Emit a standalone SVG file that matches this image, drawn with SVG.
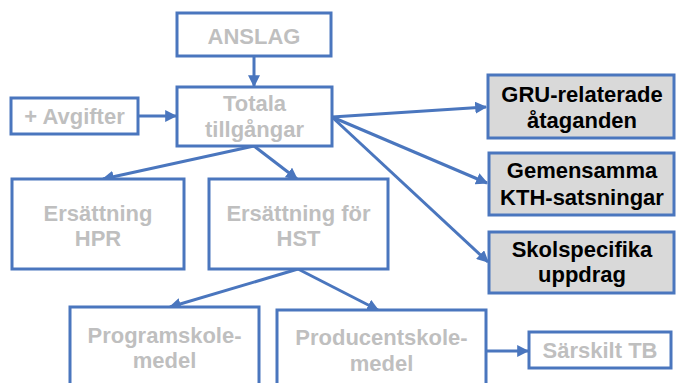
<svg xmlns="http://www.w3.org/2000/svg" width="676" height="383" viewBox="0 0 676 383">
<defs>
<marker id="ah" viewBox="0 0 10 10" refX="9" refY="5" markerWidth="4" markerHeight="4" orient="auto" markerUnits="strokeWidth">
<path d="M0,0 L10,5 L0,10 z" fill="#4A76BE"/>
</marker>
<style>
.box{fill:#fff;stroke:#4A76BE;stroke-width:3}
.gbox{fill:#D9D9D9;stroke:#4A76BE;stroke-width:3}
.t{font-family:"Liberation Sans",Arial,sans-serif;font-weight:bold;font-size:22px;text-anchor:middle;fill:#BFBFBF}
.k{fill:#000}
.c{stroke:#4A76BE;stroke-width:3;fill:none;marker-end:url(#ah)}
</style>
</defs>
<rect width="676" height="383" fill="#fff"/>
<g id="connectors">
<line class="c" x1="254" y1="56" x2="254" y2="86"/>
<line class="c" x1="138" y1="116" x2="176" y2="116"/>
<line class="c" x1="332" y1="117" x2="486" y2="107"/>
<line class="c" x1="332" y1="117" x2="487" y2="183"/>
<line class="c" x1="332" y1="117" x2="488" y2="262"/>
<line class="c" x1="254" y1="146" x2="103" y2="179"/>
<line class="c" x1="254" y1="146" x2="297" y2="179"/>
<line class="c" x1="298" y1="269" x2="170" y2="307"/>
<line class="c" x1="298" y1="269" x2="378" y2="310"/>
<line class="c" x1="486" y1="351" x2="528" y2="351"/>
</g>
<g id="anslag"><rect class="box" x="177" y="13" width="154" height="43"/><text class="t" x="254" y="44">ANSLAG</text></g>
<g id="avgifter"><rect class="box" x="11" y="98" width="127" height="36"/><text class="t" x="74.5" y="124">+ Avgifter</text></g>
<g id="totala"><rect class="box" x="177" y="87" width="155" height="59"/><text class="t" x="254.5" y="111">Totala</text><text class="t" x="254.5" y="137">tillgångar</text></g>
<g id="gru"><rect class="gbox" x="488" y="75" width="186" height="63"/><text class="t k" x="582" y="102">GRU-relaterade</text><text class="t k" x="582" y="128">åtaganden</text></g>
<g id="gemensamma"><rect class="gbox" x="489" y="153" width="185" height="62"/><text class="t k" x="582" y="178">Gemensamma</text><text class="t k" x="582" y="205">KTH-satsningar</text></g>
<g id="skolspecifika"><rect class="gbox" x="489" y="232" width="185" height="61"/><text class="t k" x="582" y="257">Skolspecifika</text><text class="t k" x="582" y="282">uppdrag</text></g>
<g id="hpr"><rect class="box" x="12" y="179" width="172" height="90"/><text class="t" x="98" y="221">Ersättning</text><text class="t" x="98" y="246">HPR</text></g>
<g id="hst"><rect class="box" x="209" y="179" width="179" height="90"/><text class="t" x="298.5" y="221">Ersättning för</text><text class="t" x="298.5" y="246">HST</text></g>
<g id="programskole"><rect class="box" x="70" y="307" width="189" height="90"/><text class="t" x="164.5" y="343">Programskole-</text><text class="t" x="164.5" y="368">medel</text></g>
<g id="producentskole"><rect class="box" x="277" y="310" width="209" height="90"/><text class="t" x="381.5" y="345">Producentskole-</text><text class="t" x="381.5" y="371">medel</text></g>
<g id="sarskilt"><rect class="box" x="529" y="332" width="142" height="36"/><text class="t" x="600" y="358">Särskilt TB</text></g>
</svg>
